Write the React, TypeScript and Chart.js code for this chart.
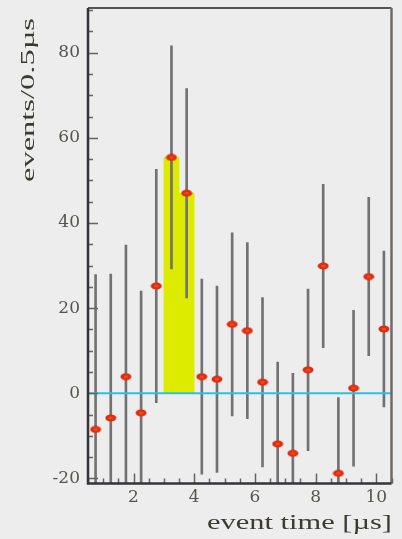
import { useEffect, useRef } from "react";
import { Chart, registerables } from "chart.js";

Chart.register(...registerables);

// 0.5 µs bins: centres, counts and their statistical errors
const binCenters = [
  0.75, 1.25, 1.75, 2.25, 2.75, 3.25, 3.75, 4.25, 4.75, 5.25,
  5.75, 6.25, 6.75, 7.25, 7.75, 8.25, 8.75, 9.25, 9.75, 10.25,
];
const counts = [
  -8.5, -5.8, 3.9, -4.6, 25.2, 55.4, 47.0, 3.9, 3.3, 16.2,
  14.7, 2.6, -11.9, -14.1, 5.5, 29.9, -18.8, 1.2, 27.4, 15.1,
];
const countErrors = [
  36.4, 33.8, 30.9, 28.6, 27.4, 26.2, 24.6, 22.9, 21.9, 21.5,
  20.7, 19.9, 19.2, 18.8, 19.0, 19.2, 17.8, 18.3, 18.6, 18.3,
];
// bins filled as the signal window
const signalBins = [3.25, 3.75];

const xTickLabels = [2, 4, 6, 8, 10];
const yTickLabels = [-20, 0, 20, 40, 60, 80];
const xTitle = "event time [µs]";
const yTitle = "events/0.5µs";

const X_MIN = 0.5;
const X_MAX = 10.5;
const Y_MIN = -21.2;
const Y_MAX = 90.5;

const BG = "#eeeded";
const INK = "#3b3b32";
const TICK_INK = "#55554e";

function makeEllipse(): HTMLCanvasElement {
  const c = document.createElement("canvas");
  c.width = 12;
  c.height = 8;
  const g = c.getContext("2d")!;
  g.fillStyle = "#e2290e";
  g.beginPath();
  g.ellipse(6, 4, 5.5, 3.5, 0, 0, Math.PI * 2);
  g.fill();
  g.fillStyle = "#f04a18";
  g.beginPath();
  g.ellipse(6, 4, 2.5, 1.5, 0, 0, Math.PI * 2);
  g.fill();
  return c;
}

const backgroundPlugin = {
  id: "paper",
  beforeDraw(chart: any) {
    const { ctx, width, height } = chart;
    ctx.save();
    ctx.fillStyle = BG;
    ctx.fillRect(0, 0, width, height);
    ctx.restore();
  },
};

function stretchedText(
  ctx: CanvasRenderingContext2D,
  text: string,
  x: number,
  y: number,
  length: number,
  font: string,
  rotate: boolean
) {
  ctx.save();
  ctx.font = font;
  ctx.fillStyle = INK;
  ctx.textAlign = "right";
  ctx.textBaseline = "middle";
  const w = ctx.measureText(text).width;
  ctx.translate(x, y);
  if (rotate) ctx.rotate(-Math.PI / 2);
  ctx.scale(length / w, 1);
  ctx.fillText(text, 0, 0);
  ctx.restore();
}

const framePlugin = {
  id: "frame",
  afterDraw(chart: any) {
    const { ctx, chartArea: a, scales } = chart;
    const xs = scales.x;
    const ys = scales.y;
    ctx.save();
    // inward tick marks
    ctx.strokeStyle = "#6a6262";
    ctx.lineWidth = 1.5;
    ctx.beginPath();
    for (let v = -20; v <= 90; v += 5) {
      const py = Math.round(ys.getPixelForValue(v)) + 0.5;
      const len = v % 20 === 0 ? 10 : 5;
      ctx.moveTo(a.left, py);
      ctx.lineTo(a.left + len, py);
    }
    for (let v = 1; v <= 21; v += 1) {
      const val = v / 2;
      const px = Math.round(xs.getPixelForValue(val)) + 0.5;
      const len = val % 2 === 0 ? 10 : 5;
      ctx.moveTo(px, a.bottom);
      ctx.lineTo(px, a.bottom - len);
    }
    ctx.stroke();

    // frame
    ctx.lineWidth = 2;
    ctx.strokeStyle = "#555";
    ctx.beginPath();
    ctx.moveTo(a.left, a.top);
    ctx.lineTo(a.right, a.top);
    ctx.stroke();
    ctx.strokeStyle = "#6e6a66";
    ctx.lineWidth = 2.5;
    ctx.beginPath();
    ctx.moveTo(a.right, a.top);
    ctx.lineTo(a.right, a.bottom);
    ctx.stroke();
    ctx.strokeStyle = "#33333a";
    ctx.lineWidth = 2.5;
    ctx.beginPath();
    ctx.moveTo(a.left, a.top);
    ctx.lineTo(a.left, a.bottom);
    ctx.lineTo(a.right, a.bottom);
    ctx.stroke();
    ctx.restore();

    // axis titles
    stretchedText(ctx, yTitle, 29, 18, 164, '19px "Liberation Serif"', true);
    stretchedText(ctx, xTitle, 392, 524, 185, '20px "Liberation Serif"', false);
  },
};

export default function App() {
  const ref = useRef<HTMLCanvasElement | null>(null);

  useEffect(() => {
    if (!ref.current) return;
    const ellipse = makeEllipse();
    const points = binCenters.map((x, i) => ({ x, y: counts[i] }));
    const bars = binCenters.map((x, i) => ({
      x,
      y: [counts[i] - countErrors[i], counts[i] + countErrors[i]],
    }));
    const signal = signalBins.map((x) => ({
      x,
      y: counts[binCenters.indexOf(x)],
    }));

    const chart = new Chart(ref.current, {
      type: "bar",
      data: {
        datasets: [
          {
            type: "bar",
            data: signal as any,
            backgroundColor: "#dceb00",
            borderWidth: 0,
            barPercentage: 1,
            categoryPercentage: 1,
            grouped: false,
            order: 4,
          },
          {
            type: "bar",
            data: bars as any,
            backgroundColor: "#727272",
            borderWidth: 0,
            barThickness: 2,
            grouped: false,
            order: 3,
          },
          {
            type: "line",
            data: [
              { x: X_MIN, y: 0 },
              { x: X_MAX, y: 0 },
            ],
            borderColor: "#26c3e6",
            borderWidth: 2,
            pointRadius: 0,
            order: 2,
          },
          {
            type: "line",
            data: points,
            showLine: false,
            pointStyle: ellipse as any,
            pointRadius: 6,
            order: 1,
          },
        ] as any,
      },
      options: {
        animation: false,
        responsive: false,
        devicePixelRatio: 1,
        layout: { padding: { top: 8, right: 10.5, left: 0, bottom: 0 } },
        plugins: {
          legend: { display: false },
          tooltip: { enabled: false },
        },
        scales: {
          x: {
            type: "linear",
            min: X_MIN,
            max: X_MAX,
            offset: false,
            grid: { display: false, drawTicks: false },
            border: { display: false },
            afterBuildTicks: (s: any) => {
              s.ticks = xTickLabels.map((v) => ({ value: v }));
            },
            afterFit: (s: any) => {
              s.height = 55.5;
              s.paddingLeft = 0;
              s.paddingRight = 0;
            },
            ticks: {
              autoSkip: false,
              maxRotation: 0,
              padding: 4,
              color: TICK_INK,
              font: { family: "DejaVu Serif", size: 17 },
            },
          },
          y: {
            min: Y_MIN,
            max: Y_MAX,
            grid: { display: false, drawTicks: false },
            border: { display: false },
            afterBuildTicks: (s: any) => {
              s.ticks = yTickLabels.map((v) => ({ value: v }));
            },
            afterFit: (s: any) => {
              s.width = 88;
              s.paddingTop = 0;
              s.paddingBottom = 0;
            },
            ticks: {
              padding: 8,
              color: TICK_INK,
              font: { family: "DejaVu Serif", size: 17 },
            },
          },
        },
      },
      plugins: [backgroundPlugin, framePlugin],
    });
    return () => chart.destroy();
  }, []);

  return (
    <div style={{ position: "absolute", left: 0, top: 0, width: 402, height: 539 }}>
      <canvas ref={ref} width={402} height={539} />
    </div>
  );
}
